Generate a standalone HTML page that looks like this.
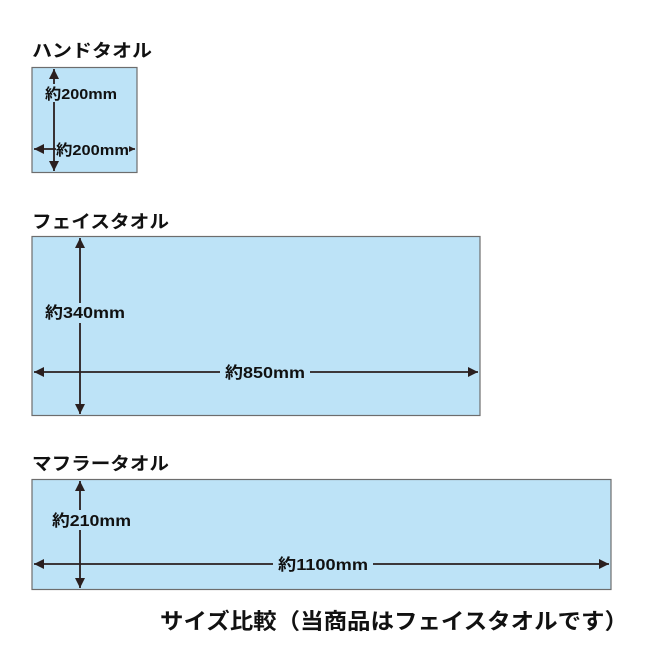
<!DOCTYPE html>
<html><head><meta charset="utf-8"><style>
html,body{margin:0;padding:0;background:#fff;width:650px;height:650px;overflow:hidden}
svg text{font-family:"Liberation Sans","Noto Sans CJK JP",sans-serif;font-weight:bold;fill:#111}
</style></head><body>
<svg width="650" height="650" viewBox="0 0 650 650" xmlns="http://www.w3.org/2000/svg">
<defs>
<marker id="a" viewBox="0 0 10 10" refX="10" refY="5" markerWidth="10" markerHeight="10" markerUnits="userSpaceOnUse" orient="auto-start-reverse"><path d="M0,0L10,5L0,10z" fill="#2a1f1f"/></marker>
</defs>
<g stroke="#6d6d6d" stroke-width="1.2" fill="#bde3f7">
<rect x="32" y="67.5" width="105" height="105"/>
<rect x="32" y="236.5" width="448" height="179"/>
<rect x="32" y="479.5" width="579" height="110"/>
</g>
<text x="32" y="57" font-size="18" textLength="120" lengthAdjust="spacingAndGlyphs">ハンドタオル</text>
<text x="32" y="228" font-size="18" textLength="137" lengthAdjust="spacingAndGlyphs">フェイスタオル</text>
<text x="32" y="470" font-size="18" textLength="137" lengthAdjust="spacingAndGlyphs">マフラータオル</text>
<g stroke="#2a1f1f" stroke-width="1.8" fill="none">
<line x1="54" y1="69" x2="54" y2="171" marker-start="url(#a)" marker-end="url(#a)"/>
<line x1="34" y1="149" x2="135" y2="149" marker-start="url(#a)" marker-end="url(#a)"/>
<line x1="80" y1="238" x2="80" y2="414" marker-start="url(#a)" marker-end="url(#a)"/>
<line x1="34" y1="372" x2="478" y2="372" marker-start="url(#a)" marker-end="url(#a)"/>
<line x1="80" y1="481" x2="80" y2="588" marker-start="url(#a)" marker-end="url(#a)"/>
<line x1="34" y1="564" x2="609" y2="564" marker-start="url(#a)" marker-end="url(#a)"/>
</g>
<g fill="#bde3f7">
<rect x="45" y="84" width="72" height="18"/>
<rect x="56" y="140" width="73" height="18"/>
<rect x="44" y="303" width="82" height="20"/>
<rect x="220" y="362" width="90" height="20"/>
<rect x="50" y="510" width="82" height="20"/>
<rect x="273" y="554" width="100" height="20"/>
</g>
<text x="45" y="99" font-size="15" textLength="72" lengthAdjust="spacingAndGlyphs">約200mm</text>
<text x="56" y="155" font-size="15" textLength="73" lengthAdjust="spacingAndGlyphs">約200mm</text>
<text x="45" y="318" font-size="16" textLength="80" lengthAdjust="spacingAndGlyphs">約340mm</text>
<text x="225" y="378" font-size="16" textLength="80" lengthAdjust="spacingAndGlyphs">約850mm</text>
<text x="52" y="526" font-size="16" textLength="79" lengthAdjust="spacingAndGlyphs">約210mm</text>
<text x="278" y="570" font-size="16" textLength="90" lengthAdjust="spacingAndGlyphs">約1100mm</text>
<text x="160" y="629" font-size="22" textLength="468" lengthAdjust="spacingAndGlyphs">サイズ比較（当商品はフェイスタオルです）</text>
</svg>
</body></html>
